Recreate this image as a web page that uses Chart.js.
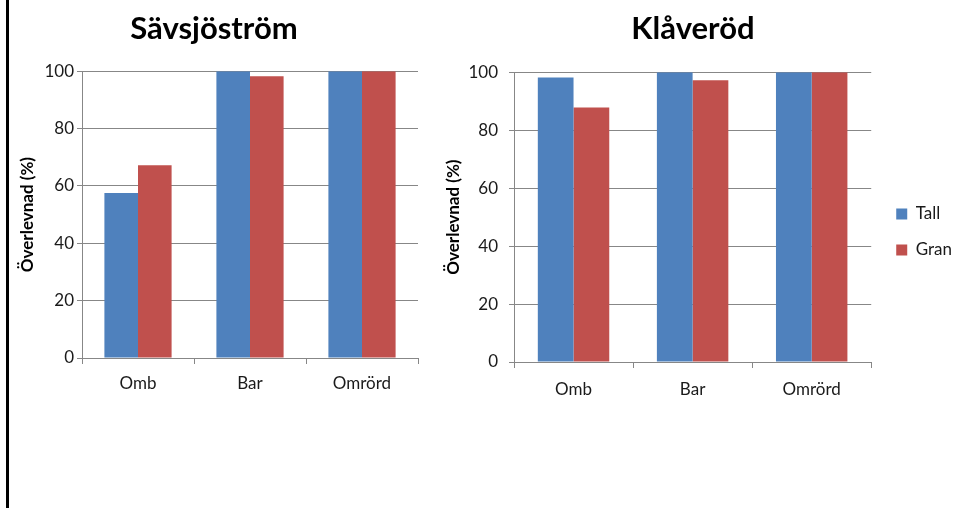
<!DOCTYPE html>
<html>
<head>
<meta charset="utf-8">
<script src="https://cdn.jsdelivr.net/npm/chart.js@4.4.0/dist/chart.umd.min.js"></script>
<style>
  body { margin: 0; width: 962px; height: 508px; overflow: hidden; background: #fff; position: relative; }
  .frame { position: absolute; left: 6px; top: 0; width: 3px; height: 508px; background: #000; }
  .box { position: absolute; top: 0; height: 508px; }
  #boxLeft { left: 10px; width: 496px; }
  #boxRight { left: 424px; width: 538px; }
</style>
</head>
<body>
<div class="frame"></div>
<div class="box" id="boxLeft"><canvas id="left"></canvas></div>
<div class="box" id="boxRight"><canvas id="right"></canvas></div>
<script>
const categories = ["Omb", "Bar", "Omrörd"];
const seriesNames = ["Tall", "Gran"];
const savsjoTall = [57.5, 100, 100];
const savsjoGran = [67.2, 98.2, 100];
const klaveTall = [98.2, 100, 100];
const klaveGran = [87.8, 97.2, 100];
const yTicks = [0, 20, 40, 60, 80, 100];

const blue = "#4F81BD";
const red = "#C0504D";
const gridGray = "#878787";

Chart.defaults.font.family = "Lato";
Chart.defaults.color = "#1a1a1a";

function makeData(tall, gran) {
  return {
    labels: categories,
    datasets: [
      { label: seriesNames[0], data: tall, backgroundColor: blue, categoryPercentage: 0.6, barPercentage: 1.0 },
      { label: seriesNames[1], data: gran, backgroundColor: red, categoryPercentage: 0.6, barPercentage: 1.0 },
    ],
  };
}

function makeOptions(title, o) {
  return {
    responsive: true,
    maintainAspectRatio: false,
    animation: false,
    devicePixelRatio: 1,
    layout: { padding: o.padding },
    plugins: {
      title: {
        display: true,
        text: title,
        color: "#000",
        font: { size: 31, weight: "bold" },
        padding: { top: 10, bottom: o.titleBottom },
      },
      legend: o.legend,
      tooltip: { enabled: false },
    },
    scales: Object.assign({
      x: {
        grid: { offset: true, drawOnChartArea: false, tickLength: 6, color: gridGray },
        border: { color: gridGray },
        ticks: { padding: o.xPad, font: { size: 17 } },
        afterFit: (s) => { s.height = 50; },
      },
      y: {
        min: 0,
        max: 100,
        afterBuildTicks: (s) => { s.ticks = yTicks.map((v) => ({ value: v })); },
        grid: { color: gridGray, tickLength: 5 },
        border: { color: gridGray },
        ticks: { padding: o.yPad, font: { size: 17 } },
        title: {
          display: true,
          text: "Överlevnad (%)",
          color: "#000",
          font: { size: 17, weight: "bold" },
          padding: { top: o.yTitleTop, bottom: 0 },
        },
        afterFit: (s) => { s.width = o.yWidth; },
      },
    }, o.extraScales || {}),
  };
}

new Chart(document.getElementById("left"), {
  type: "bar",
  data: makeData(savsjoTall, savsjoGran),
  options: makeOptions("Sävsjöström", {
    padding: { left: 0, right: 88, top: 0, bottom: 100 },
    titleBottom: 24,
    xPad: 9,
    yPad: 3,
    yTitleTop: 7,
    yWidth: 72,
    legend: { display: false },
  }),
});

new Chart(document.getElementById("right"), {
  type: "bar",
  data: makeData(klaveTall, klaveGran),
  options: makeOptions("Klåveröd", {
    padding: { left: 0, right: 0, top: 0, bottom: 96 },
    titleBottom: 25,
    xPad: 11,
    yPad: 11,
    yTitleTop: 19,
    yWidth: 90,
    legend: {
      display: true,
      position: "right",
      title: { display: true, text: " ", font: { size: 10 }, padding: { top: 40, bottom: 0 } },
      labels: { boxWidth: 11, boxHeight: 11, padding: 19, font: { size: 17 }, color: "#1a1a1a" },
    },
    extraScales: {
      gap: {
        type: "linear",
        position: "right",
        display: true,
        grid: { display: false },
        border: { display: false },
        ticks: { display: false },
        afterFit: (s) => { s.width = 6; },
      },
    },
  }),
});
</script>
</body>
</html>
